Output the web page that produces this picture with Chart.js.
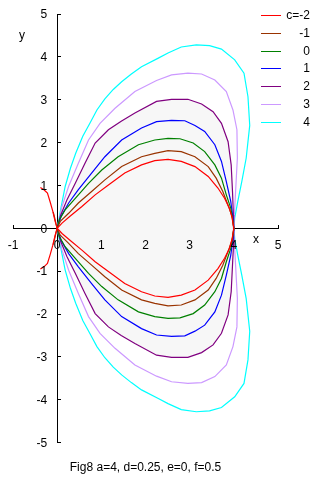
<!DOCTYPE html>
<html>
<head>
<meta charset="utf-8">
<script src="https://cdn.jsdelivr.net/npm/chart.js@4"></script>
<style>
  html, body { margin: 0; padding: 0; background: #fff; }
</style>
</head>
<body>
<canvas id="myChart" width="320" height="485"></canvas>
<script>
// legend labels / colours (c = -2 ... 4)
const cLabels = ["c=-2", "-1", "0", "1", "2", "3", "4"];
const cColors = ["#ff0000", "#993300", "#008000", "#0000ff", "#800080", "#cc99ff", "#00ffff"];

// tick values
const xTicks = [-1, 0, 1, 2, 3, 4, 5];
const yTicks = [-5, -4, -3, -2, -1, 0, 1, 2, 3, 4, 5];

// small left branches (origin side)
const redLeftUp = [[-0.38, 0.95], [-0.3, 0.9], [-0.22, 0.82], [-0.16, 0.62], [-0.1, 0.4], [-0.05, 0.18], [0, 0]];
const redLeftDown = [[0, 0], [-0.05, -0.18], [-0.1, -0.4], [-0.16, -0.62], [-0.22, -0.82], [-0.3, -0.9], [-0.38, -0.95]];
const brownLeftUp = [[-0.09, 0.38], [-0.06, 0.26], [-0.03, 0.12], [0, 0]];
const brownLeftDown = [[0, 0], [-0.03, -0.12], [-0.06, -0.26], [-0.09, -0.38]];

// main loops, upper half (origin -> (4,0)) and lower half (origin -> (4,0))
const redUp = [[0, 0], [0.11, 0.12], [0.29, 0.28], [0.56, 0.51], [0.86, 0.78], [1.16, 1.01], [1.53, 1.29], [1.91, 1.48], [2.21, 1.58], [2.51, 1.61], [2.81, 1.56], [3.12, 1.44], [3.42, 1.21], [3.64, 0.94], [3.79, 0.7], [3.9, 0.47], [3.96, 0.25], [4, 0]];
const redDown = [[0, 0], [0.11, -0.12], [0.29, -0.28], [0.56, -0.51], [0.86, -0.78], [1.16, -1.01], [1.53, -1.29], [1.91, -1.48], [2.21, -1.58], [2.51, -1.61], [2.81, -1.56], [3.12, -1.44], [3.42, -1.21], [3.64, -0.94], [3.79, -0.7], [3.9, -0.47], [3.96, -0.25], [4, 0]];

const brownUp = [[0, 0], [0.07, 0.16], [0.26, 0.35], [0.48, 0.59], [0.78, 0.86], [1.08, 1.13], [1.46, 1.44], [1.91, 1.67], [2.21, 1.75], [2.51, 1.81], [2.81, 1.79], [3.12, 1.67], [3.42, 1.44], [3.6, 1.17], [3.75, 0.86], [3.88, 0.51], [3.96, 0.28], [4, 0]];
const brownDown = [[0, 0], [0.07, -0.16], [0.26, -0.35], [0.48, -0.59], [0.78, -0.86], [1.08, -1.13], [1.46, -1.44], [1.91, -1.67], [2.21, -1.75], [2.51, -1.81], [2.81, -1.79], [3.12, -1.67], [3.42, -1.44], [3.6, -1.17], [3.75, -0.86], [3.88, -0.51], [3.96, -0.28], [4, 0]];

const greenUp = [[0, 0], [0.05, 0.2], [0.18, 0.43], [0.41, 0.7], [0.71, 1.05], [1.01, 1.36], [1.38, 1.67], [1.84, 1.95], [2.21, 2.06], [2.51, 2.1], [2.78, 2.09], [3.08, 1.99], [3.34, 1.79], [3.57, 1.48], [3.72, 1.17], [3.83, 0.78], [3.93, 0.47], [3.97, 0.24], [4, 0]];
const greenDown = [[0, 0], [0.05, -0.2], [0.18, -0.43], [0.41, -0.7], [0.71, -1.05], [1.01, -1.36], [1.38, -1.67], [1.84, -1.95], [2.21, -2.06], [2.51, -2.1], [2.78, -2.09], [3.08, -1.99], [3.34, -1.79], [3.57, -1.48], [3.72, -1.17], [3.83, -0.78], [3.93, -0.47], [3.97, -0.24], [4, 0]];

const blueUp = [[0, 0], [0.09, 0.28], [0.26, 0.59], [0.48, 0.9], [0.78, 1.29], [1.08, 1.67], [1.46, 2.06], [1.91, 2.34], [2.25, 2.49], [2.59, 2.52], [2.89, 2.51], [3.12, 2.4], [3.34, 2.26], [3.57, 1.95], [3.72, 1.56], [3.83, 1.09], [3.93, 0.63], [3.98, 0.24], [4, 0]];
const blueDown = [[0, 0], [0.09, -0.28], [0.26, -0.59], [0.48, -0.9], [0.78, -1.29], [1.08, -1.67], [1.46, -2.06], [1.91, -2.34], [2.25, -2.49], [2.59, -2.52], [2.89, -2.51], [3.12, -2.4], [3.34, -2.26], [3.57, -1.95], [3.72, -1.56], [3.83, -1.09], [3.93, -0.63], [3.98, -0.24], [4, 0]];

const purpleUp = [[0, 0], [0.07, 0.28], [0.22, 0.66], [0.41, 1.05], [0.63, 1.52], [0.86, 1.99], [1.16, 2.3], [1.45, 2.5], [1.76, 2.69], [2.25, 2.96], [2.59, 3.01], [2.96, 3.01], [3.27, 2.9], [3.53, 2.72], [3.72, 2.45], [3.87, 2.02], [3.94, 1.48], [3.97, 0.86], [3.99, 0.31], [4, 0]];
const purpleDown = [[0, 0], [0.07, -0.28], [0.22, -0.66], [0.41, -1.05], [0.63, -1.52], [0.86, -1.99], [1.16, -2.3], [1.45, -2.5], [1.76, -2.69], [2.25, -2.96], [2.59, -3.01], [2.96, -3.01], [3.27, -2.9], [3.53, -2.72], [3.72, -2.45], [3.87, -2.02], [3.94, -1.48], [3.97, -0.86], [3.99, -0.31], [4, 0]];

const lilacUp = [[0, 0], [0.11, 0.51], [0.26, 0.98], [0.48, 1.52], [0.71, 2.06], [0.97, 2.45], [1.31, 2.8], [1.76, 3.19], [2.25, 3.45], [2.59, 3.58], [2.96, 3.62], [3.27, 3.6], [3.57, 3.46], [3.83, 3.19], [3.98, 2.76], [4.07, 2.3], [4.08, 1.64], [4.04, 0.86], [4.01, 0.3], [4, 0]];
const lilacDown = [[0, 0], [0.11, -0.51], [0.26, -0.98], [0.48, -1.52], [0.71, -2.06], [0.97, -2.45], [1.31, -2.8], [1.76, -3.19], [2.25, -3.45], [2.59, -3.58], [2.96, -3.62], [3.27, -3.6], [3.57, -3.46], [3.83, -3.19], [3.98, -2.76], [4.07, -2.3], [4.08, -1.64], [4.04, -0.86], [4.01, -0.3], [4, 0]];

const cyanUp = [[0, 0], [0.09, 0.5], [0.18, 0.97], [0.3, 1.4], [0.42, 1.75], [0.58, 2.15], [0.75, 2.47], [0.9, 2.76], [1.08, 3.02], [1.27, 3.24], [1.46, 3.42], [1.68, 3.6], [1.91, 3.77], [2.29, 3.97], [2.51, 4.09], [2.81, 4.23], [3.15, 4.28], [3.45, 4.26], [3.72, 4.18], [4.02, 3.93], [4.23, 3.62], [4.32, 3.07], [4.36, 2.4], [4.28, 1.64], [4.18, 1.09], [4.09, 0.63], [4.02, 0.24], [4, 0]];
const cyanDown = [[0, 0], [0.09, -0.5], [0.18, -0.97], [0.3, -1.4], [0.42, -1.75], [0.58, -2.15], [0.75, -2.47], [0.9, -2.76], [1.08, -3.02], [1.27, -3.24], [1.46, -3.42], [1.68, -3.6], [1.91, -3.77], [2.29, -3.97], [2.51, -4.09], [2.81, -4.23], [3.15, -4.28], [3.45, -4.26], [3.72, -4.18], [4.02, -3.93], [4.23, -3.62], [4.32, -3.07], [4.36, -2.4], [4.28, -1.64], [4.18, -1.09], [4.09, -0.63], [4.02, -0.24], [4, 0]];

const FONT = '"Liberation Sans", Arial, sans-serif';

// upper half out to (4,0), then lower half back to the origin
function loop(up, down, leftUp, leftDown) {
  let pts = [];
  if (leftUp) pts = pts.concat(leftUp);
  pts = pts.concat(up, down.slice().reverse());
  if (leftDown) pts = pts.concat(leftDown);
  return pts.map(p => ({ x: p[0], y: p[1] }));
}

const curves = [
  loop(redUp, redDown, redLeftUp, redLeftDown),
  loop(brownUp, brownDown, brownLeftUp, brownLeftDown),
  loop(greenUp, greenDown),
  loop(blueUp, blueDown),
  loop(purpleUp, purpleDown),
  loop(lilacUp, lilacDown),
  loop(cyanUp, cyanDown),
];

// tick labels next to the centred axes, axis titles, legend
const overlay = {
  id: "overlay",
  afterDraw(chart) {
    const ctx = chart.ctx;
    const xs = chart.scales.x, ys = chart.scales.y;
    const x0 = xs.getPixelForValue(0);
    const y0 = ys.getPixelForValue(0);
    ctx.save();
    ctx.font = "12px " + FONT;
    ctx.fillStyle = "#000";
    ctx.textBaseline = "middle";

    ctx.textAlign = "right";
    yTicks.forEach(v => ctx.fillText(String(v), x0 - 10, ys.getPixelForValue(v) + 1));

    ctx.textAlign = "center";
    xTicks.forEach(v => ctx.fillText(String(v), xs.getPixelForValue(v), y0 + 17));

    ctx.fillText("x", 256, 240);
    ctx.fillText("y", 22, 36);

    cLabels.forEach((lab, i) => {
      const y = Math.round(15 + i * 17.8) + 0.5;
      ctx.strokeStyle = cColors[i];
      ctx.lineWidth = 1;
      ctx.beginPath();
      ctx.moveTo(261, y);
      ctx.lineTo(281, y);
      ctx.stroke();
      ctx.textAlign = "right";
      ctx.fillText(lab, 310, y);
    });
    ctx.restore();
  },
};

window.addEventListener("DOMContentLoaded", () => {
  const ctx = document.getElementById("myChart").getContext("2d");
  new Chart(ctx, {
    type: "scatter",
    data: {
      datasets: curves.map((pts, i) => ({
        label: cLabels[i],
        data: pts,
        showLine: true,
        borderColor: cColors[i],
        borderWidth: 1.2,
        pointRadius: 0,
        tension: 0,
        fill: i === 4 ? "shape" : false, // grey area inside c=2
        backgroundColor: i === 4 ? "#f7f7f7" : "transparent",
      })),
    },
    options: {
      responsive: false,
      animation: false,
      layout: { padding: { left: 13, right: 42, top: 14, bottom: 0 } },
      plugins: {
        legend: { display: false },
        tooltip: { enabled: false },
        filler: { drawTime: "beforeDatasetsDraw" },
        title: {
          display: true,
          position: "bottom",
          text: "Fig8 a=4, d=0.25, e=0, f=0.5",
          color: "#000",
          font: { family: FONT, size: 12, weight: "normal" },
          padding: { top: 18, bottom: 10 },
        },
      },
      scales: {
        x: {
          type: "linear",
          min: -1,
          max: 5,
          position: { y: 0 },
          afterFit: (s) => { s.height = 0; },
          afterBuildTicks: (s) => { s.ticks = xTicks.map(v => ({ value: v })); },
          ticks: { display: false },
          grid: { drawOnChartArea: false, tickLength: -4, color: "#000", lineWidth: 1 },
          border: { color: "#000", width: 1 },
        },
        y: {
          type: "linear",
          min: -5,
          max: 5,
          position: { x: 0 },
          afterFit: (s) => { s.width = 0; },
          afterBuildTicks: (s) => { s.ticks = yTicks.map(v => ({ value: v })); },
          ticks: { display: false },
          grid: { drawOnChartArea: false, tickLength: -4, color: "#000", lineWidth: 1 },
          border: { color: "#000", width: 1 },
        },
      },
    },
    plugins: [overlay],
  });
});
</script>
</body>
</html>
